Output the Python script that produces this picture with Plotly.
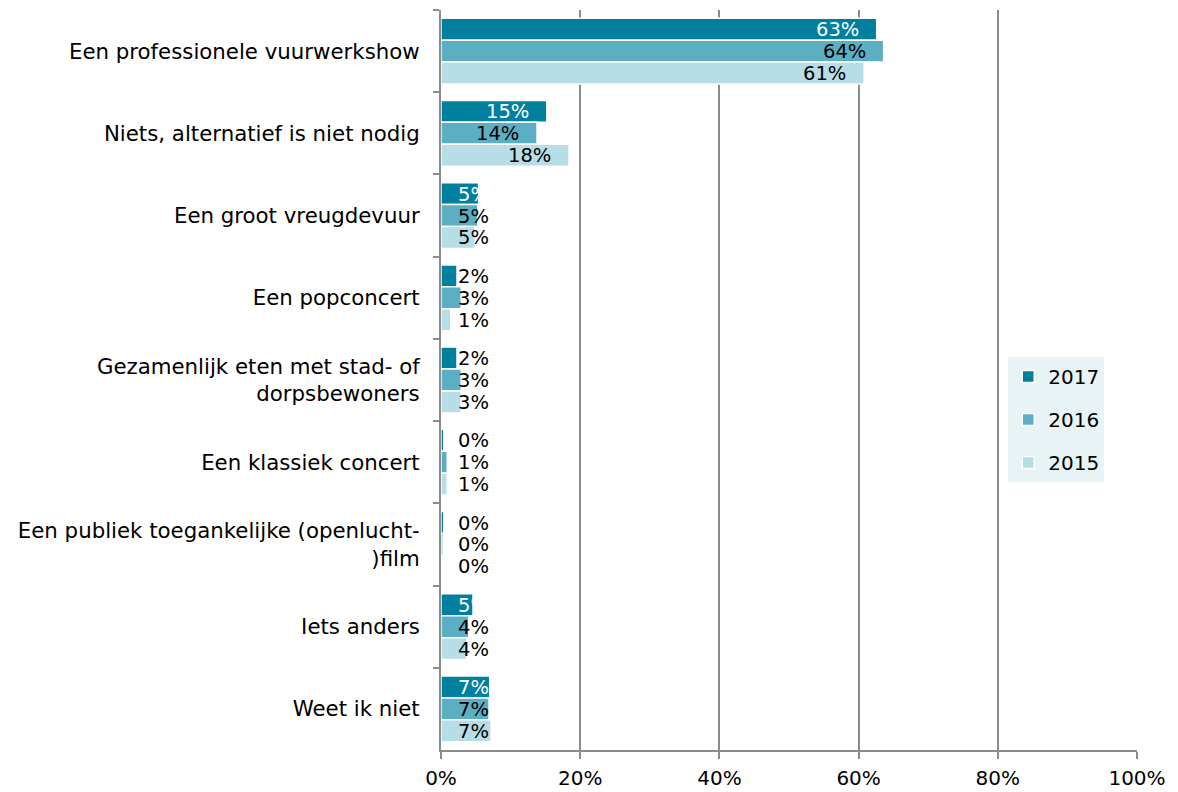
import plotly.graph_objects as go

categories = [
    "Een professionele vuurwerkshow",
    "Niets, alternatief is niet nodig",
    "Een groot vreugdevuur",
    "Een popconcert",
    "Gezamenlijk eten met stad- of<br>dorpsbewoners",
    "Een klassiek concert",
    "Een publiek toegankelijke (openlucht-<br>)film",
    "Iets anders",
    "Weet ik niet",
]
series_names = ["2017", "2016", "2015"]
v2017 = [62.6, 15.2, 5.4, 2.3, 2.3, 0.4, 0.4, 4.6, 7.0]
v2016 = [63.6, 13.8, 5.3, 2.9, 2.9, 0.9, 0.3, 4.0, 6.9]
v2015 = [60.8, 18.4, 4.9, 1.4, 2.9, 0.9, 0.1, 3.7, 7.2]
series_values = [v2017, v2016, v2015]
colors = ["#00809e", "#5caec3", "#b7dde6"]
tick_vals = [0, 20, 40, 60, 80, 100]
tick_text = ["0%", "20%", "40%", "60%", "80%", "100%"]

FONT = "DejaVu Sans, Verdana, sans-serif"
FS = 20
FS_LAB = 19.5
FS_CAT = 21.3
BARGAP = 0.2

fig = go.Figure()
for i, (name, vals) in enumerate(zip(series_names, series_values)):
    fig.add_trace(go.Bar(
        y=categories, x=vals, name=name, orientation="h",
        marker=dict(color=colors[i], line=dict(color="white", width=1.5)),
        legendgroup=name, hoverinfo="skip",
    ))

annotations = []
bw = (1 - BARGAP) / 3
for i, vals in enumerate(series_values):
    off = (i - 1) * bw
    for j, v in enumerate(vals):
        lab = f"{round(v)}%"
        fits = v >= 10
        if i == 0:
            col = "#ffffff" if v >= 4 else "#000000"
        else:
            col = "#000000"
        annotations.append(dict(
            x=v if fits else 0, y=j + off, xref="x", yref="y",
            text=lab, showarrow=False,
            xanchor="right" if fits else "left", yanchor="middle",
            xshift=-17 if fits else 16,
            height=20, borderpad=0,
            font=dict(family=FONT, size=FS_LAB, color=col),
        ))

fig.update_layout(
    width=1170, height=784,
    margin=dict(l=433, r=41, t=2, b=40),
    paper_bgcolor="white", plot_bgcolor="white",
    barmode="group", bargap=BARGAP, bargroupgap=0,
    font=dict(family=FONT, size=FS, color="#000000"),
    annotations=annotations,
    legend=dict(
        x=0.815, y=0.531, xanchor="left", yanchor="top",
        bgcolor="#e7f3f5", borderwidth=0,
        font=dict(family=FONT, size=FS, color="#000000"),
        tracegroupgap=14, itemwidth=30,
    ),
    showlegend=True,
)
fig.update_xaxes(
    range=[0, 100], tickvals=tick_vals, ticktext=tick_text,
    showgrid=True, gridcolor="#8c8c8c", gridwidth=2,
    showline=True, linecolor="#8c8c8c", linewidth=2,
    ticks="outside", ticklen=7, tickcolor="#8c8c8c", tickwidth=2,
    zeroline=False, tickfont=dict(family=FONT, size=FS, color="#000000"),
    ticklabelstandoff=2,
)
fig.update_yaxes(
    autorange="reversed", type="category",
    showline=True, linecolor="#8c8c8c", linewidth=2,
    ticks="outside", ticklen=6, tickcolor="#8c8c8c", tickwidth=2,
    tickson="boundaries", showgrid=False,
    tickfont=dict(family=FONT, size=FS_CAT, color="#000000"),
    ticklabelstandoff=15,
)

fig.write_html("out.html")
